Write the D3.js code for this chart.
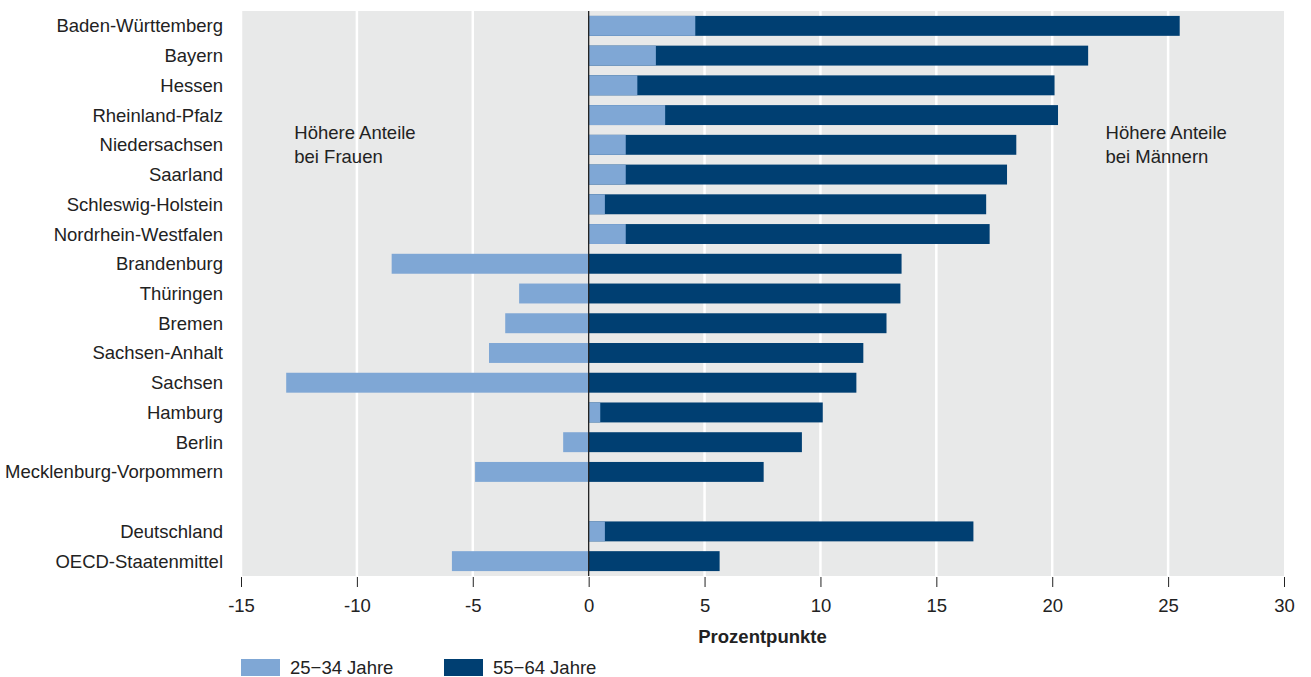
<!DOCTYPE html>
<html lang="de">
<head>
<meta charset="UTF-8">
<title>Prozentpunkte nach Ländern</title>
<script src="https://d3js.org/d3.v7.min.js"></script>
<style>
  body { margin: 0; background: #fff; font-family: "Liberation Sans", Arial, sans-serif; }
  text { fill: #222; }
</style>
</head>
<body>
<div id="chart"></div>
<script>
// categories (empty string = gap row)
var laender = ["Baden-Württemberg", "Bayern", "Hessen", "Rheinland-Pfalz", "Niedersachsen",
  "Saarland", "Schleswig-Holstein", "Nordrhein-Westfalen", "Brandenburg", "Thüringen",
  "Bremen", "Sachsen-Anhalt", "Sachsen", "Hamburg", "Berlin", "Mecklenburg-Vorpommern",
  "", "Deutschland", "OECD-Staatenmittel"];

// 25-34 Jahre
var jung = [4.6, 2.9, 2.1, 3.3, 1.6, 1.6, 0.7, 1.6, -8.5, -3.0, -3.6, -4.3, -13.05, 0.5, -1.1, -4.9, null, 0.7, -5.9];
// 55-64 Jahre
var alt = [25.5, 21.55, 20.1, 20.25, 18.45, 18.05, 17.15, 17.3, 13.5, 13.45, 12.85, 11.85, 11.55, 10.1, 9.2, 7.55, null, 16.6, 5.65];

var xTicks = [-15, -10, -5, 0, 5, 10, 15, 20, 25, 30];
var serien = ["25\u221234 Jahre", "55\u221264 Jahre"];
var farben = ["#7fa7d5", "#003f72"];

var fs = 18.5;

var margin = {top: 11, right: 27, bottom: 101, left: 241},
    width = 1311 - margin.left - margin.right,
    height = 677 - margin.top - margin.bottom;

var svg = d3.select("#chart")
  .append("svg")
    .attr("width", 1311)
    .attr("height", 677)
  .append("g")
    .attr("transform", "translate(" + margin.left + "," + margin.top + ")");

var x = d3.scaleLinear().domain([-15, 30]).range([0, width]);
var y = d3.scaleBand().domain(laender).range([0, height]).paddingInner(0.33).paddingOuter(0.165);

// background
svg.append("rect")
  .attr("width", width)
  .attr("height", height)
  .attr("fill", "#e8e9e9");

// grid
svg.selectAll(".grid")
  .data(xTicks.filter(function(d) { return d !== 0 && d !== 30; }))
  .enter().append("line")
    .attr("x1", function(d) { return x(d); })
    .attr("x2", function(d) { return x(d); })
    .attr("y1", 0)
    .attr("y2", height)
    .attr("stroke", "#fff")
    .attr("stroke-width", 2.5);

var rows = laender.map(function(l, i) { return {name: l, jung: jung[i], alt: alt[i]}; })
  .filter(function(d) { return d.name !== ""; });

// 55-64 bars
svg.selectAll(".alt")
  .data(rows)
  .enter().append("rect")
    .attr("x", function(d) { return x(Math.min(0, d.alt)); })
    .attr("width", function(d) { return Math.abs(x(d.alt) - x(0)); })
    .attr("y", function(d) { return y(d.name); })
    .attr("height", y.bandwidth())
    .attr("fill", farben[1]);

// 25-34 bars on top
svg.selectAll(".jung")
  .data(rows)
  .enter().append("rect")
    .attr("x", function(d) { return x(Math.min(0, d.jung)); })
    .attr("width", function(d) { return Math.abs(x(d.jung) - x(0)); })
    .attr("y", function(d) { return y(d.name); })
    .attr("height", y.bandwidth())
    .attr("fill", farben[0]);

// zero line
svg.append("line")
  .attr("x1", x(0)).attr("x2", x(0))
  .attr("y1", 0).attr("y2", height)
  .attr("stroke", "#222")
  .attr("stroke-width", 1.3);

// x axis
var xAxis = svg.append("g")
  .attr("transform", "translate(0," + height + ")")
  .call(d3.axisBottom(x).tickValues(xTicks).tickSize(11).tickPadding(12)
    .tickFormat(function(d) { return String(d); }));
xAxis.select(".domain").remove();
xAxis.selectAll("line").attr("stroke", "#222").attr("y1", 1);
xAxis.selectAll("text").attr("font-size", fs).attr("font-family", "Liberation Sans, Arial, sans-serif").attr("fill", "#222");

// y labels
svg.selectAll(".ylab")
  .data(rows)
  .enter().append("text")
    .attr("x", -18)
    .attr("y", function(d) { return y(d.name) + y.bandwidth() / 2; })
    .attr("dy", "0.35em")
    .attr("text-anchor", "end")
    .attr("font-size", fs)
    .text(function(d) { return d.name; });

// axis title
svg.append("text")
  .attr("x", x(7.5))
  .attr("y", height + 67)
  .attr("text-anchor", "middle")
  .attr("font-size", fs)
  .attr("font-weight", "bold")
  .text("Prozentpunkte");

// annotations
var notes = [
  {x: -12.7, lines: ["Höhere Anteile", "bei Frauen"]},
  {x: 22.3, lines: ["Höhere Anteile", "bei Männern"]}
];
notes.forEach(function(n) {
  var t = svg.append("text").attr("font-size", fs);
  n.lines.forEach(function(l, i) {
    t.append("tspan").attr("x", x(n.x)).attr("y", 128 + i * 24).text(l);
  });
});

// legend
var leg = svg.append("g").attr("transform", "translate(0," + (height + 83) + ")");
serien.forEach(function(s, i) {
  var g = leg.append("g").attr("transform", "translate(" + (i * 203) + ",0)");
  g.append("rect").attr("width", 39).attr("height", 17).attr("fill", farben[i]);
  g.append("text").attr("x", 49).attr("y", 9).attr("dy", "0.35em").attr("font-size", fs).text(s);
});
</script>
</body>
</html>
